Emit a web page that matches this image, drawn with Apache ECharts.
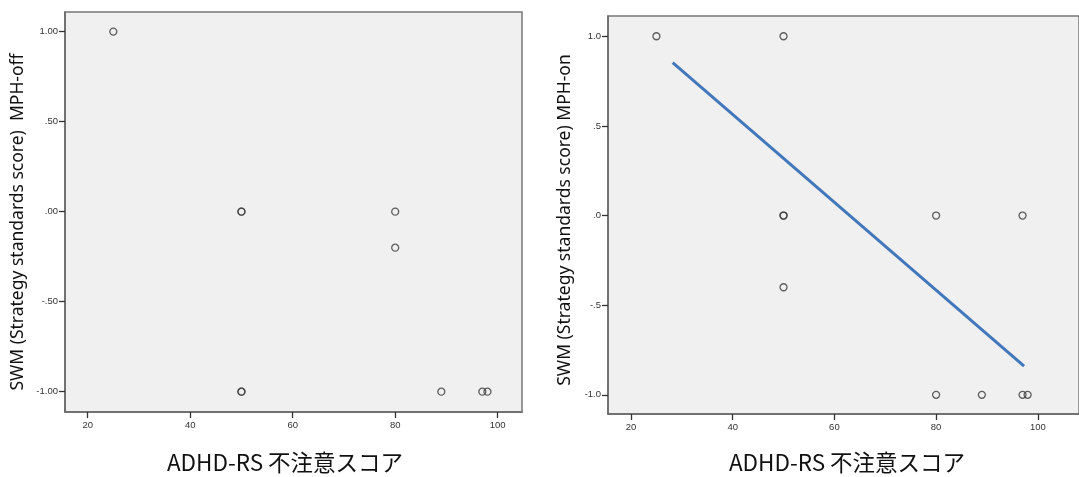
<!DOCTYPE html>
<html>
<head>
<meta charset="utf-8">
<script src="https://cdn.jsdelivr.net/npm/echarts@6/dist/echarts.min.js"></script>
<style>
html,body{margin:0;padding:0;background:#fff;}
#chart{width:1079px;height:477px;}
</style>
</head>
<body>
<div id="chart"></div>
<script>
// ---- data ----
var xTicks = [20, 40, 60, 80, 100];
var yTicks = [-1, -0.5, 0, 0.5, 1];
var leftYTickLabels = ['-1.00', '-.50', '.00', '.50', '1.00'];
var rightYTickLabels = ['-1.0', '-.5', '.0', '.5', '1.0'];

var offX = [25, 50, 50, 50, 50, 80, 80, 89, 97, 98];
var offY = [1, 0, 0, -1, -1, 0, -0.2, -1, -1, -1];

var onX = [25, 50, 50, 50, 50, 80, 97, 80, 89, 97, 98];
var onY = [1, 1, 0, 0, -0.4, 0, 0, -1, -1, -1, -1];

var fitX = [28.2, 97.3];
var fitY = [0.853, -0.84];

var xTitle = 'ADHD-RS 不注意スコア';
var leftYTitle = 'SWM (Strategy standards score)  MPH-off';
var rightYTitle = 'SWM (Strategy standards score) MPH-on';

function zip(a, b) { return a.map(function (v, i) { return [v, b[i]]; }); }
function labelMap(vals, labels) {
  return function (v) {
    for (var i = 0; i < vals.length; i++) if (Math.abs(vals[i] - v) < 1e-9) return labels[i];
    return '';
  };
}

var tickLabelStyle = { fontFamily: 'Liberation Sans, Arial, sans-serif', fontSize: 9.5, color: '#333' };

function xAxisDef(gi, min, max) {
  return {
    type: 'value', gridIndex: gi, min: min, max: max, position: 'bottom', z: 5,
    axisLine: { show: true, onZero: false, lineStyle: { color: '#666', width: 1.5 } },
    splitLine: { show: false },
    axisTick: { show: true, inside: false, length: 6, customValues: xTicks, lineStyle: { color: '#333', width: 1.3 } },
    axisLabel: Object.assign({ customValues: xTicks, margin: 8 }, tickLabelStyle)
  };
}
function yAxisDef(gi, min, max, labels) {
  return {
    type: 'value', gridIndex: gi, min: min, max: max, position: 'left', z: 5,
    axisLine: { show: true, onZero: false, lineStyle: { color: '#666', width: 1.5 } },
    splitLine: { show: false },
    axisTick: { show: true, inside: false, length: 6, customValues: yTicks, lineStyle: { color: '#333', width: 1.3 } },
    axisLabel: Object.assign({ customValues: yTicks, margin: 7, formatter: labelMap(yTicks, labels) }, tickLabelStyle)
  };
}

var pointStyle = { color: 'rgba(0,0,0,0)', borderColor: '#3a3a3a', borderWidth: 1.3 };

var chart = echarts.init(document.getElementById('chart'), null, { renderer: 'canvas' });
chart.setOption({
  backgroundColor: '#ffffff',
  animation: false,
  grid: [
    { left: 65, top: 12, width: 457, height: 400, show: true, backgroundColor: '#f0f0f0', borderColor: '#777', borderWidth: 1.5 },
    { left: 608, top: 16, width: 480, height: 398, show: true, backgroundColor: '#f0f0f0', borderColor: '#777', borderWidth: 1.5 }
  ],
  xAxis: [xAxisDef(0, 15.57, 104.74), xAxisDef(1, 15.48, 108.1)],
  yAxis: [yAxisDef(0, -1.113, 1.109, leftYTickLabels), yAxisDef(1, -1.107, 1.113, rightYTickLabels)],
  series: [
    { type: 'scatter', xAxisIndex: 0, yAxisIndex: 0, data: zip(offX, offY), symbol: 'circle', symbolSize: 7, itemStyle: pointStyle },
    { type: 'scatter', xAxisIndex: 1, yAxisIndex: 1, data: zip(onX, onY), symbol: 'circle', symbolSize: 7, itemStyle: pointStyle },
    { type: 'line', xAxisIndex: 1, yAxisIndex: 1, data: zip(fitX, fitY), symbol: 'none', lineStyle: { color: '#4277bb', width: 3 } }
  ],
  graphic: [
    { type: 'text', x: 285, y: 462, style: { text: xTitle, fontFamily: 'Noto Sans CJK JP, sans-serif', fontSize: 22.5, fill: '#111', textAlign: 'center', textVerticalAlign: 'middle' } },
    { type: 'text', x: 847, y: 462, style: { text: xTitle, fontFamily: 'Noto Sans CJK JP, sans-serif', fontSize: 22.5, fill: '#111', textAlign: 'center', textVerticalAlign: 'middle' } },
    { type: 'text', x: 18.5, y: 222, rotation: Math.PI / 2, style: { text: leftYTitle, fontFamily: 'Noto Sans, sans-serif', fontSize: 17.5, fill: '#111', textAlign: 'center', textVerticalAlign: 'middle' } },
    { type: 'text', x: 565, y: 220, rotation: Math.PI / 2, style: { text: rightYTitle, fontFamily: 'Noto Sans, sans-serif', fontSize: 17.5, fill: '#111', textAlign: 'center', textVerticalAlign: 'middle' } }
  ]
});
</script>
</body>
</html>
